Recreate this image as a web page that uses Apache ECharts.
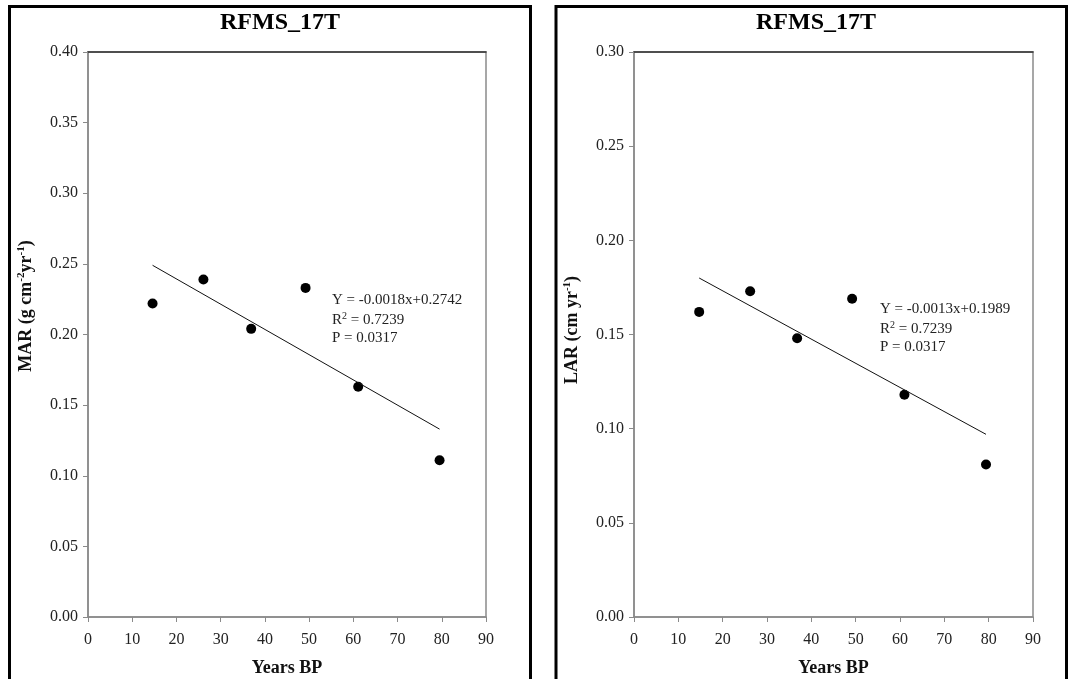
<!DOCTYPE html>
<html><head><meta charset="utf-8">
<script src="https://cdn.jsdelivr.net/npm/echarts@6/dist/echarts.min.js"></script>
<style>html,body{margin:0;padding:0;background:#fff}#c{width:1071px;height:679px}</style>
</head><body><div id="c"></div>
<script>
// ---- data ----
const panelTitles = ['RFMS_17T', 'RFMS_17T'];
const xTickMax = 90, xTickStep = 10;
const marYears  = [14.6, 26.1, 36.9, 49.2, 61.1, 79.5];
const marValues = [0.222, 0.239, 0.204, 0.233, 0.163, 0.111];
const marFitX = [14.6, 79.5];
const marFitY = [0.249, 0.133];
const marAxisMax = 0.40, marStep = 0.05;
const marStats = ['Y = -0.0018x+0.2742', '0.7239', 'P = 0.0317'];

const larYears  = [14.7, 26.2, 36.8, 49.2, 61.0, 79.4];
const larValues = [0.162, 0.173, 0.148, 0.169, 0.118, 0.081];
const larFitX = [14.7, 79.4];
const larFitY = [0.180, 0.097];
const larAxisMax = 0.30, larStep = 0.05;
const larStats = ['Y = -0.0013x+0.1989', '0.7239', 'P = 0.0317'];

const xName = 'Years BP';

// ---- chart ----
const SERIF = '"Liberation Serif","Times New Roman",serif';
const chart = echarts.init(document.getElementById('c'), null, {renderer: 'canvas'});
const grey = '#8a8a8a';

function xAxes(gi) {
  return [{
    type: 'value', gridIndex: gi, min: 0, max: xTickMax, interval: xTickStep,
    name: xName, nameLocation: 'middle', nameGap: 42,
    nameTextStyle: {fontFamily: SERIF, fontWeight: 'bold', fontSize: 18, color: '#111'},
    axisLine: {show: true, lineStyle: {color: grey, width: 1.5}},
    axisTick: {show: true, inside: false, length: 5, lineStyle: {color: grey, width: 1}},
    axisLabel: {fontFamily: SERIF, fontSize: 16, color: '#222', margin: 15},
    splitLine: {show: false}
  }, {
    type: 'value', gridIndex: gi, position: 'top', min: 0, max: xTickMax,
    axisLine: {show: true, lineStyle: {color: '#333', width: 1.5}},
    axisTick: {show: false}, axisLabel: {show: false}, splitLine: {show: false}
  }];
}
function yAxis(gi, max, step) {
  return {
    type: 'value', gridIndex: gi, min: 0, max: max, interval: step,
    axisLine: {show: true, lineStyle: {color: grey, width: 1.5}},
    axisTick: {show: true, inside: false, length: 5, lineStyle: {color: grey, width: 1}},
    axisLabel: {fontFamily: SERIF, fontSize: 16, color: '#222', margin: 10,
      formatter: v => v.toFixed(2)},
    splitLine: {show: false}
  };
}
function pts(xs, ys) { return xs.map((x, i) => [x, ys[i]]); }

const statStyle = {font: '15px ' + SERIF, fill: '#222'};
function statTexts(x, y0, stats) {
  return [
    {type: 'text', x: x, y: y0, style: Object.assign({text: stats[0], verticalAlign: 'middle'}, statStyle)},
    {type: 'text', x: x, y: y0 + 20, style: Object.assign({
      text: 'R{sup|2} = ' + stats[1], verticalAlign: 'middle',
      rich: {sup: {fontSize: 10, fontFamily: SERIF, fill: '#222', verticalAlign: 'top', lineHeight: 18}}
    }, statStyle)},
    {type: 'text', x: x, y: y0 + 38, style: Object.assign({text: stats[2], verticalAlign: 'middle'}, statStyle)}
  ];
}
function yTitle(x, y, main) {
  return {
    type: 'text', x: x, y: y, rotation: Math.PI / 2,
    style: {
      text: main, align: 'center', verticalAlign: 'middle',
      font: 'bold 18px ' + SERIF, fill: '#111',
      rich: {
        b: {fontSize: 18, fontWeight: 'bold', fontFamily: SERIF, fill: '#111', lineHeight: 20},
        s: {fontSize: 11, fontWeight: 'bold', fontFamily: SERIF, fill: '#111', lineHeight: 20, verticalAlign: 'top'}
      }
    }
  };
}

const option = {
  animation: false,
  backgroundColor: '#fff',
  grid: [
    {left: 88, right: 1071 - 486, top: 52, bottom: 62, show: true, borderColor: grey, borderWidth: 1.5,
      outerBoundsMode: 'none', containLabel: false},
    {left: 634, right: 1071 - 1033, top: 52, bottom: 62, show: true, borderColor: grey, borderWidth: 1.5,
      outerBoundsMode: 'none', containLabel: false}
  ],
  xAxis: [...xAxes(0), ...xAxes(1)],
  yAxis: [yAxis(0, marAxisMax, marStep), yAxis(1, larAxisMax, larStep)],
  series: [
    {type: 'scatter', xAxisIndex: 0, yAxisIndex: 0, data: pts(marYears, marValues),
      symbol: 'circle', symbolSize: 10, itemStyle: {color: '#000', opacity: 1}},
    {type: 'line', xAxisIndex: 0, yAxisIndex: 0, data: pts(marFitX, marFitY),
      showSymbol: false, lineStyle: {color: '#111', width: 1}},
    {type: 'scatter', xAxisIndex: 2, yAxisIndex: 1, data: pts(larYears, larValues),
      symbol: 'circle', symbolSize: 10, itemStyle: {color: '#000', opacity: 1}},
    {type: 'line', xAxisIndex: 2, yAxisIndex: 1, data: pts(larFitX, larFitY),
      showSymbol: false, lineStyle: {color: '#111', width: 1}}
  ],
  graphic: [
    {type: 'rect', shape: {x: 9.5, y: 6.5, width: 521, height: 700},
      style: {fill: 'none', stroke: '#000', lineWidth: 3}},
    {type: 'rect', shape: {x: 556, y: 6.5, width: 510.5, height: 700},
      style: {fill: 'none', stroke: '#000', lineWidth: 3}},
    {type: 'text', x: 280, y: 23, style: {text: panelTitles[0], align: 'center', verticalAlign: 'middle',
      font: 'bold 24px ' + SERIF, fill: '#000'}},
    {type: 'text', x: 816, y: 23, style: {text: panelTitles[1], align: 'center', verticalAlign: 'middle',
      font: 'bold 24px ' + SERIF, fill: '#000'}},
    yTitle(26, 306, '{b|MAR (g cm}{s|-2}{b|yr}{s|-1}{b|)}'),
    yTitle(572, 330, '{b|LAR (cm yr}{s|-1}{b|)}'),
    ...statTexts(332, 300, marStats),
    ...statTexts(880, 309, larStats)
  ]
};
chart.setOption(option);
</script>
</body></html>
